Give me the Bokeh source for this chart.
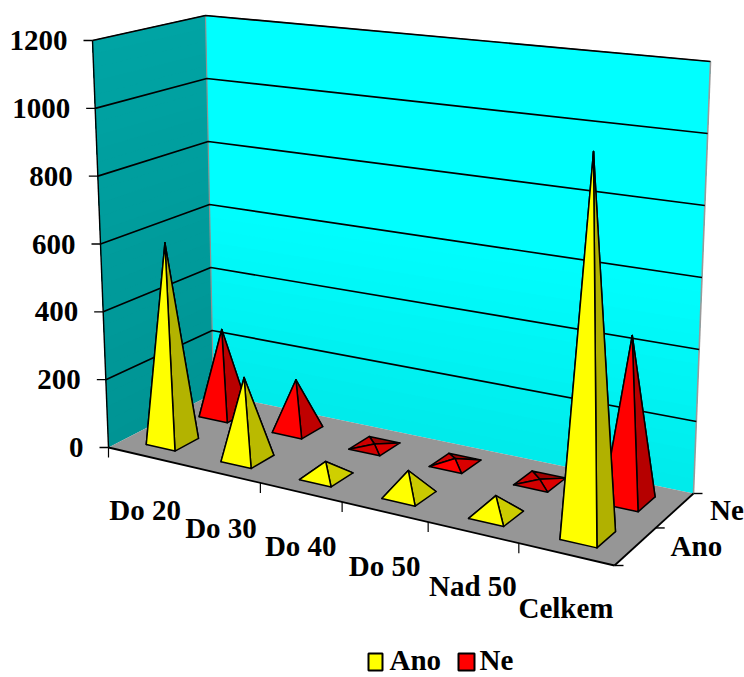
import numpy as np
from bokeh.plotting import figure
from bokeh.core.properties import value
from bokeh.embed import file_html
from bokeh.resources import INLINE

categories = ["Do 20", "Do 30", "Do 40", "Do 50", "Nad 50", "Celkem"]
series = ["Ano", "Ne"]
ano = [590, 235, 42, 68, 52, 1020]
ne = [260, 150, 6, 14, 6, 455]
y_ticks = [0, 200, 400, 600, 800, 1000, 1200]
colors = {"Ano": (255, 255, 0), "Ne": (255, 0, 0)}

# scene: floor and ceiling corners in page pixels (front-left, front-right, back-right, back-left)
FLOOR = [(108, 447), (614, 565), (693, 493), (213, 393)]
TOP = [(92, 40), (627.5, 100), (710, 61), (205, 15)]
YMAX = 1200
HU, HV = 0.195, 0.22
FONT = value("Liberation Serif")
FS = "29px"
DY = -11  # text baseline correction
LEG_Y = 653  # top of legend swatches


def homography(q):
    s = [(0, 0), (1, 0), (1, 1), (0, 1)]
    A, b = [], []
    for (x, y), (X, Y) in zip(s, q):
        A.append([x, y, 1, 0, 0, 0, -x * X, -y * X]); b.append(X)
        A.append([0, 0, 0, x, y, 1, -x * Y, -y * Y]); b.append(Y)
    h = np.linalg.solve(np.array(A, float), np.array(b, float))
    return np.append(h, 1).reshape(3, 3)


HF, HT = homography(FLOOR), homography(TOP)


def _ap(H, u, v):
    w = H @ np.array([u, v, 1.0])
    return w[:2] / w[2]


def P(u, v, val=0.0):
    """category position u (0..6), series position v (0..2), value -> page pixel"""
    t = val / YMAX
    a = _ap(HF, u / 6, v / 2)
    b = _ap(HT, u / 6, v / 2)
    return (1 - t) * a + t * b


def hexc(rgb, k=1.0):
    return "#%02x%02x%02x" % tuple(int(round(c * k)) for c in rgb)


p = figure(width=744, height=677, x_range=(0, 744), y_range=(677, 0),
           toolbar_location=None, output_backend="svg", min_border=0)
p.axis.visible = False
p.grid.visible = False
p.outline_line_color = None
p.background_fill_color = "white"
p.border_fill_color = "white"

# walls with a soft vertical gradient; each band reaches the top so no seams show
xs, ys, fc = [], [], []
N = 30
for i in range(N):
    a = YMAX * i / N
    f = (i + 0.5) / N
    q = [P(0, 2, a), P(6, 2, a), P(6, 2, YMAX), P(0, 2, YMAX)]
    xs.append([c[0] for c in q]); ys.append([c[1] for c in q])
    g = min(255, 234 + 40 * f)
    fc.append(hexc((0, g, g)))
    q = [P(0, 0, a), P(0, 2, a), P(0, 2, YMAX), P(0, 0, YMAX)]
    xs.append([c[0] for c in q]); ys.append([c[1] for c in q])
    g = 148 + 16 * f
    fc.append(hexc((0, g, g)))
p.patches(xs, ys, fill_color=fc, line_color=None)

# floor
q = [P(0, 0), P(6, 0), P(6, 2), P(0, 2)]
p.patch([c[0] for c in q], [c[1] for c in q], fill_color="#969696", line_color=None)

# wall edges
for a, b, col, w in [
    (P(0, 2, YMAX), P(6, 2, YMAX), "#6e6e6e", 1.2),
    (P(0, 0, YMAX), P(0, 2, YMAX), "#6e6e6e", 1.2),
    (P(6, 2, 0), P(6, 2, YMAX), "#999999", 1.6),
    (P(0, 2, 0), P(0, 2, YMAX), "#909090", 1.2),
    (P(0, 0, 0), P(0, 0, YMAX), "black", 1.4),
    (P(0, 0), P(6, 0), "black", 1.8),
    (P(6, 0), P(6, 2), "black", 1.8),
]:
    p.line([a[0], b[0]], [a[1], b[1]], line_color=col, line_width=w)

# gridlines and value ticks
for t in y_ticks:
    if t > 0:
        q = [P(0, 0, t), P(0, 2, t), P(6, 2, t)]
        p.line([c[0] for c in q], [c[1] for c in q], line_color="black", line_width=1.7)
    a = P(0, 0, t)
    p.line([a[0] - 9, a[0]], [a[1], a[1]], line_color="black", line_width=1.4)
    p.text([a[0] - 25], [a[1] + 11 + DY], text=[str(t)], text_font=FONT,
           text_font_style="bold", text_font_size=FS, text_align="right",
           text_baseline="alphabetic", text_color="black")

# category ticks and labels
for i, c in enumerate(categories):
    if i != 1:
        a = P(i, 0)
        p.line([a[0], a[0]], [a[1], a[1] + 10], line_color="black", line_width=1.2)
    a = P(i + 0.5, 0)
    p.text([a[0]], [a[1] + 65 + DY], text=[c], text_font=FONT,
           text_font_style="bold", text_font_size=FS, text_align="center",
           text_baseline="alphabetic", text_color="black")

# series ticks and labels
for j in range(3):
    a = P(6, j)
    p.line([a[0], a[0] + 9], [a[1], a[1]], line_color="black", line_width=1.4)
for j, s in enumerate(series):
    a = P(6, j + 0.5)
    p.text([a[0] + 35], [a[1] + 10.5 + DY], text=[s], text_font=FONT,
           text_font_style="bold", text_font_size=FS, text_align="left",
           text_baseline="alphabetic", text_color="black")

# pyramids, back row first
for j, (name, vals) in reversed(list(enumerate(zip(series, [ano, ne])))):
    for i, val in enumerate(vals):
        cu, cv = i + 0.5, j + 0.5
        a = P(cu, cv, val)
        fl = P(cu - HU, cv - HV)
        fr = P(cu + HU, cv - HV)
        br = P(cu + HU, cv + HV)
        bl = P(cu - HU, cv + HV)
        shade = 0.68 + 0.2 / (1 + val / 80)
        front = 0.82 if val < 8 else 1.0
        faces = [((bl, br), 0.62), ((fl, bl), 0.8), ((fr, br), shade), ((fl, fr), front)]
        fx, fy, fcol = [], [], []
        for (m, n), k in faces:
            tri = [m, n, a]
            fx.append([c[0] for c in tri]); fy.append([c[1] for c in tri])
            fcol.append(hexc(colors[name], k))
        p.patches(fx, fy, fill_color=fcol, line_color="black", line_width=1.5,
                  line_join="round")

# legend
LX = [(368, 382, 389), (458, 474, 479)]
for (x0, x1, xt), s in zip(LX, series):
    p.patch([x0, x1, x1, x0], [LEG_Y, LEG_Y, LEG_Y + 17, LEG_Y + 17], fill_color=hexc(colors[s]),
            line_color="black", line_width=2)
    p.text([xt], [LEG_Y + 17 + DY], text=[s], text_font=FONT, text_font_style="bold",
           text_font_size=FS, text_align="left", text_baseline="alphabetic",
           text_color="black")

open("out.html", "w").write(file_html(p, INLINE))
